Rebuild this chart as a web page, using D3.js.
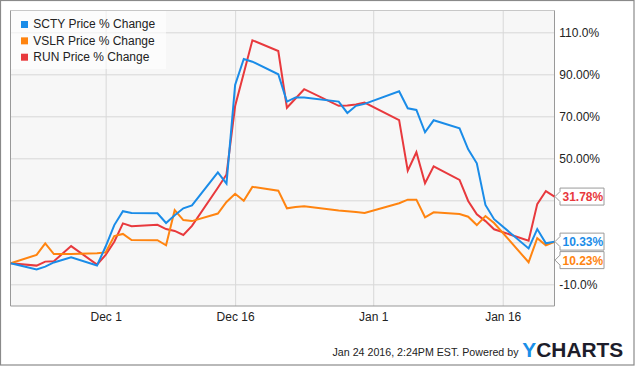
<!DOCTYPE html>
<html>
<head>
<meta charset="utf-8">
<script src="https://cdn.jsdelivr.net/npm/d3@7"></script>
<style>
  html, body { margin: 0; padding: 0; background: #fff; }
  svg { display: block; font-family: "Liberation Sans", Arial, sans-serif; }
</style>
</head>
<body>
<svg id="chart" width="635" height="366"></svg>
<script>
// ---------- data ----------
const dates = ["2015-11-20","2015-11-23","2015-11-24","2015-11-25","2015-11-27","2015-11-30",
  "2015-12-01","2015-12-02","2015-12-03","2015-12-04","2015-12-07","2015-12-08","2015-12-09","2015-12-10","2015-12-11",
  "2015-12-14","2015-12-15","2015-12-16","2015-12-17","2015-12-18","2015-12-21","2015-12-22","2015-12-23","2015-12-24",
  "2015-12-28","2015-12-29","2015-12-30","2015-12-31",
  "2016-01-04","2016-01-05","2016-01-06","2016-01-07","2016-01-08","2016-01-11","2016-01-12","2016-01-13","2016-01-14","2016-01-15",
  "2016-01-19","2016-01-20","2016-01-21","2016-01-22"];

const sctyValues = [0,-2.9,-1.6,0.4,2.9,-1.0,
  8.0,18.2,24.8,24.0,23.8,19.2,22.9,26.2,27.6,
  43.3,38.0,84.9,97.3,96.0,90.0,77.0,79.0,79.0,
  77.0,71.6,75.0,75.9,
  81.9,73.8,73.0,62.4,68.1,64.3,54.3,47.6,27.8,21.0,
  7.1,16.3,9.5,10.33];

const vslrValues = [0,4.0,9.5,4.4,4.4,4.8,
  5.2,13.0,14.0,11.1,11.0,8.6,25.3,20.6,20.1,
  23.7,29.2,33.1,29.8,36.4,34.6,26.2,26.8,27.2,
  25.2,24.8,24.4,24.0,
  28.6,30.3,30.3,21.9,24.3,23.5,22.2,18.2,22.5,19.2,
  0.5,12.0,8.6,10.23];

const runValues = [0,-1.1,0.8,1.0,8.2,-0.6,
  4.0,10.3,19.0,17.7,18.3,16.3,15.4,13.5,17.8,
  36.0,42.3,74.9,90.5,106.2,101.1,74.1,78.5,82.9,
  75.0,75.2,75.6,76.5,
  68.2,44.1,52.9,38.1,46.2,39.7,29.7,23.3,20.1,16.2,
  10.8,28.2,34.4,31.78];

const seriesNames = ["SCTY Price % Change","VSLR Price % Change","RUN Price % Change"];
const seriesColors = ["#1a8ce8","#ff8410","#e8393d"];
const flagLabels = ["10.33%","10.23%","31.78%"];

const yTickValues = [110,90,70,50,30,10,-10];
const yTickLabels = ["110.0%","90.00%","70.00%","50.00%","30.00%","10.00%","-10.0%"];
const xTickDates = ["2015-12-01","2015-12-16","2016-01-01","2016-01-16"];
const xTickLabels = ["Dec 1","Dec 16","Jan 1","Jan 16"];
const yDomain = [-20.33, 120.38];
const footerText = "Jan 24 2016, 2:24PM EST.  Powered by";

// ---------- setup ----------
const parse = d3.timeParse("%Y-%m-%d");
const dateObjs = dates.map(parse);
const allSeries = [sctyValues, vslrValues, runValues].map((vals, i) => ({
  name: seriesNames[i], color: seriesColors[i], flag: flagLabels[i],
  points: vals.map((v, j) => ({ d: dateObjs[j], v }))
}));

const svg = d3.select("#chart");
const P = { left: 10.5, top: 10.5, right: 554.5, bottom: 306 };

const x = d3.scaleTime().domain([dateObjs[0], dateObjs[dateObjs.length - 1]]).range([P.left + 0.2, P.right]);
const y = d3.scaleLinear().domain(yDomain).range([P.bottom, P.top]);

// outer border
svg.append("rect").attr("x", 0.5).attr("y", 0.5).attr("width", 633.5).attr("height", 364.5)
  .attr("fill", "#fff").attr("stroke", "#8a8a8a").attr("stroke-width", 1.2);

// plot background
svg.append("rect").attr("x", P.left).attr("y", P.top)
  .attr("width", P.right - P.left).attr("height", P.bottom - P.top)
  .attr("fill", "#f7f7f7");

// gridlines
const gridY = svg.append("g").attr("transform", `translate(${P.left},0)`)
  .call(d3.axisLeft(y).tickValues(yTickValues).tickSize(-(P.right - P.left)).tickFormat(""));
gridY.select(".domain").remove();
gridY.selectAll("line").attr("stroke", "#d8d8d8").attr("stroke-width", 1);

const gridX = svg.append("g").attr("transform", `translate(0,${P.top})`)
  .call(d3.axisTop(x).tickValues(xTickDates.map(parse)).tickSize(-(P.bottom - P.top)).tickFormat(""));
gridX.select(".domain").remove();
gridX.selectAll("line").attr("stroke", "#d8d8d8").attr("stroke-width", 1);

// plot frame
svg.append("line").attr("x1", P.left).attr("x2", P.right).attr("y1", P.top).attr("y2", P.top)
  .attr("stroke", "#c8c8c8");
svg.append("line").attr("x1", P.left).attr("x2", P.left).attr("y1", P.top).attr("y2", P.bottom)
  .attr("stroke", "#999");
svg.append("line").attr("x1", P.right).attr("x2", P.right).attr("y1", P.top).attr("y2", P.bottom)
  .attr("stroke", "#999");
svg.append("line").attr("x1", P.left).attr("x2", P.right).attr("y1", P.bottom).attr("y2", P.bottom)
  .attr("stroke", "#999");

// lines
const line = d3.line().x(p => x(p.d)).y(p => y(p.v));
const drawOrder = [2, 1, 0];
drawOrder.forEach(i => {
  const s = allSeries[i];
  svg.append("path").datum(s.points).attr("d", line)
    .attr("fill", "none").attr("stroke", s.color).attr("stroke-width", 2)
    .attr("stroke-linejoin", "miter");
});

// x axis labels
const xAxis = svg.append("g").attr("transform", `translate(0,${P.bottom})`)
  .call(d3.axisBottom(x).tickValues(xTickDates.map(parse)).tickSize(0).tickPadding(0)
    .tickFormat((d, i) => xTickLabels[i]));
xAxis.select(".domain").remove();
xAxis.selectAll("text").attr("font-size", 12).attr("fill", "#222")
  .attr("font-family", "Liberation Sans, Arial, sans-serif")
  .attr("dy", null).attr("y", 14.7);

// flags
const flags = allSeries.map(s => {
  const last = s.points[s.points.length - 1];
  return { s, cy: y(last.v) };
}).sort((a, b) => a.cy - b.cy);
for (let i = 1; i < flags.length; i++) {
  if (flags[i].cy < flags[i - 1].cy + 18.5) flags[i].cy = flags[i - 1].cy + 18.5;
}

// y axis labels (skip those hidden by flags)
const yAxis = svg.append("g").attr("transform", `translate(${P.right},0)`)
  .call(d3.axisRight(y).tickValues(yTickValues).tickSize(0).tickPadding(4.8)
    .tickFormat((d, i) => yTickLabels[i]));
yAxis.select(".domain").remove();
yAxis.selectAll("text").attr("font-size", 12).attr("fill", "#222")
  .attr("font-family", "Liberation Sans, Arial, sans-serif")
  .attr("dy", "0.36em");
yAxis.selectAll(".tick").filter(d => flags.some(f => Math.abs(y(d) - f.cy) < 14)).remove();

const fx0 = 555, fx1 = 560, fx2 = 604, hh = 8.5;
flags.forEach(f => {
  const c = f.cy;
  const path = `M${fx0},${c} L${fx1},${c - 5} L${fx1},${c - hh} L${fx2},${c - hh} L${fx2},${c + hh} L${fx1},${c + hh} L${fx1},${c + 5} Z`;
  svg.append("path").attr("d", path).attr("fill", "#fff").attr("stroke", "#9a9a9a").attr("stroke-width", 1);
  svg.append("text").attr("x", 562.5).attr("y", c + 4.4)
    .attr("font-size", 12).attr("font-weight", "bold").attr("fill", f.s.color)
    .text(f.s.flag);
});

// legend
svg.append("rect").attr("x", 11).attr("y", 11).attr("width", 155).attr("height", 58)
  .attr("fill", "#ffffff").attr("fill-opacity", 0.6);
allSeries.forEach((s, i) => {
  const yy = 21 + i * 16.35;
  svg.append("rect").attr("x", 21).attr("y", yy).attr("width", 7).attr("height", 7).attr("fill", s.color);
  svg.append("text").attr("x", 33.3).attr("y", yy + 7.3).attr("font-size", 12).attr("fill", "#222")
    .text(s.name);
});

// footer
svg.append("text").attr("x", 518.5).attr("y", 355.7).attr("font-size", 10.5).attr("fill", "#222")
  .attr("text-anchor", "end")
  .attr("textLength", 186).attr("lengthAdjust", "spacingAndGlyphs")
  .text(footerText);
const logo = svg.append("text").attr("x", 522.3).attr("y", 356.6).attr("font-size", 20)
  .attr("font-weight", "bold").attr("textLength", 101).attr("lengthAdjust", "spacingAndGlyphs");
logo.append("tspan").attr("fill", "#1a8fe8").text("Y");
logo.append("tspan").attr("fill", "#1d1d2b").text("CHARTS");
</script>
</body>
</html>
